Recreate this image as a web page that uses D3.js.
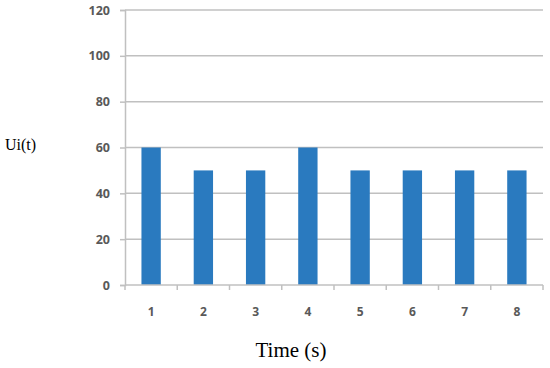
<!DOCTYPE html>
<html>
<head>
<meta charset="utf-8">
<script src="https://cdn.jsdelivr.net/npm/d3@7"></script>
<style>
  body { margin: 0; background: #fff; }
</style>
</head>
<body>
<script>
// data
const times = ['1', '2', '3', '4', '5', '6', '7', '8'];
const uiValues = [60, 50, 50, 60, 50, 50, 50, 50];
const yTicks = [0, 20, 40, 60, 80, 100, 120];

const width = 550;
const height = 368;
// plot area
const pLeft = 125, pRight = 543, pTop = 10, pBottom = 285;
const gridColor = '#c0c0c0';
const barColor = '#2a7abf';
const labelColor = '#595959';

const svg = d3.select('body')
    .append('svg')
    .attr('width', width)
    .attr('height', height);

const x = d3.scaleBand()
    .domain(times)
    .range([pLeft, pRight])
    .paddingInner(0.63)
    .paddingOuter(0.315);

const y = d3.scaleLinear()
    .domain([0, 120])
    .range([pBottom, pTop]);

// gridlines
svg.append('g')
    .selectAll('line')
    .data(yTicks.slice(1))
    .enter()
    .append('line')
    .attr('x1', pLeft)
    .attr('x2', pRight)
    .attr('y1', d => y(d))
    .attr('y2', d => y(d))
    .attr('stroke', gridColor)
    .attr('stroke-width', 1.5);

// y axis
const yAxis = svg.append('g')
    .attr('transform', `translate(${pLeft},0)`)
    .call(d3.axisLeft(y).tickValues(yTicks).tickSize(5).tickPadding(10));
yAxis.select('.domain').attr('stroke', gridColor).attr('stroke-width', 1.5);
yAxis.selectAll('.tick line').attr('stroke', gridColor).attr('stroke-width', 1.5);
yAxis.selectAll('.tick text')
    .attr('fill', labelColor)
    .attr('font-family', 'Open Sans, sans-serif')
    .attr('font-weight', 'bold')
    .attr('font-size', '12.5px');

// bars
svg.append('g')
    .selectAll('rect')
    .data(uiValues)
    .enter()
    .append('rect')
    .attr('x', (d, i) => x(times[i]))
    .attr('y', d => y(d))
    .attr('width', x.bandwidth())
    .attr('height', d => y(0) - y(d))
    .attr('fill', barColor);

// x axis: ticks sit between categories
const boundaries = d3.range(times.length + 1).map(i => pLeft + i * (pRight - pLeft) / times.length);
const xAxis = svg.append('g');
xAxis.append('line')
    .attr('x1', pLeft)
    .attr('x2', pRight)
    .attr('y1', pBottom)
    .attr('y2', pBottom)
    .attr('stroke', gridColor)
    .attr('stroke-width', 1.5);
xAxis.selectAll('.xtick')
    .data(boundaries)
    .enter()
    .append('line')
    .attr('class', 'xtick')
    .attr('x1', d => d)
    .attr('x2', d => d)
    .attr('y1', pBottom)
    .attr('y2', pBottom + 5)
    .attr('stroke', gridColor)
    .attr('stroke-width', 1.5);
xAxis.selectAll('text')
    .data(times)
    .enter()
    .append('text')
    .text(d => d)
    .attr('x', d => x(d) + x.bandwidth() / 2)
    .attr('y', 316)
    .attr('text-anchor', 'middle')
    .attr('fill', labelColor)
    .attr('font-family', 'Open Sans, sans-serif')
    .attr('font-weight', 'bold')
    .attr('font-size', '12px');

// axis titles
svg.append('text')
    .text('Ui(t)')
    .attr('x', 5)
    .attr('y', 150)
    .attr('font-family', 'Liberation Serif, serif')
    .attr('font-size', '16px')
    .attr('fill', '#000');

svg.append('text')
    .text('Time (s)')
    .attr('x', 291)
    .attr('y', 357)
    .attr('text-anchor', 'middle')
    .attr('font-family', 'Liberation Serif, serif')
    .attr('font-size', '21px')
    .attr('fill', '#000');
</script>
</body>
</html>
